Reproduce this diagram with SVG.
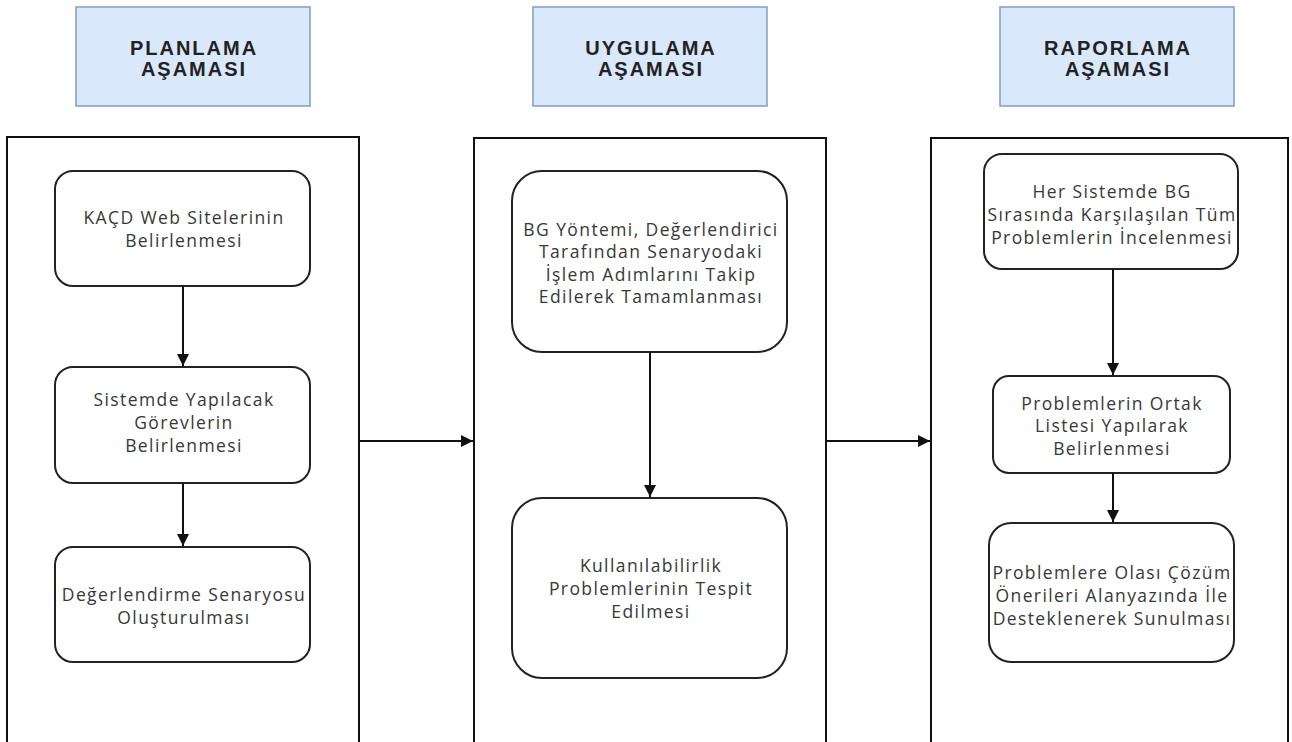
<svg xmlns="http://www.w3.org/2000/svg" width="1292" height="742" viewBox="0 0 1292 742">
<style>
.hdr{fill:#dae8fc;stroke:#7f9cc8;stroke-width:1.5}
.hdrt{font-family:"Liberation Sans",Arial,sans-serif;font-weight:bold;font-size:20px;letter-spacing:2px;fill:#222;text-anchor:middle}
.frame{fill:#fff;stroke:#111;stroke-width:2}
.node{fill:#fff;stroke:#222;stroke-width:2}
.nt{font-family:"Open Sans","Noto Sans",sans-serif;font-size:17.5px;letter-spacing:1.4px;fill:#383838;text-anchor:middle}
.conn{stroke:#111;stroke-width:2;fill:none}
</style>
<defs>
<marker id="ah" viewBox="0 0 10 10" refX="10" refY="5" markerWidth="6" markerHeight="6" orient="auto" markerUnits="strokeWidth">
<path d="M0,0 L10,5 L0,10 Z" fill="#111"/>
</marker>
</defs>
<rect width="1292" height="742" fill="#fff"/>

<g id="hdr-planlama"><rect class="hdr" x="76" y="7" width="234" height="99"/><text class="hdrt" x="194" y="55">PLANLAMA</text><text class="hdrt" x="194" y="76">AŞAMASI</text></g>
<g id="hdr-uygulama"><rect class="hdr" x="533" y="7" width="234" height="99"/><text class="hdrt" x="651" y="55">UYGULAMA</text><text class="hdrt" x="651" y="76">AŞAMASI</text></g>
<g id="hdr-raporlama"><rect class="hdr" x="1000" y="7" width="234" height="99"/><text class="hdrt" x="1118" y="55">RAPORLAMA</text><text class="hdrt" x="1118" y="76">AŞAMASI</text></g>

<g id="frame-planlama"><rect class="frame" x="7" y="137" width="352" height="620"/></g>
<g id="frame-uygulama"><rect class="frame" x="474" y="138" width="352" height="620"/></g>
<g id="frame-raporlama"><rect class="frame" x="931" y="138" width="357" height="620"/></g>

<g id="p1"><rect class="node" x="55" y="171" width="255" height="115" rx="18"/><text class="nt" x="184" y="224">KAÇD Web Sitelerinin</text><text class="nt" x="184" y="247">Belirlenmesi</text></g>
<g id="p2"><rect class="node" x="55" y="367" width="255" height="116" rx="18"/><text class="nt" x="184" y="406">Sistemde Yapılacak</text><text class="nt" x="184" y="429">Görevlerin</text><text class="nt" x="184" y="452">Belirlenmesi</text></g>
<g id="p3"><rect class="node" x="55" y="547" width="255" height="115" rx="18"/><text class="nt" x="184" y="601">Değerlendirme Senaryosu</text><text class="nt" x="184" y="624">Oluşturulması</text></g>

<g id="u1"><rect class="node" x="512" y="171" width="275" height="181" rx="30"/><text class="nt" x="651" y="236">BG Yöntemi, Değerlendirici</text><text class="nt" x="651" y="258">Tarafından Senaryodaki</text><text class="nt" x="651" y="281">İşlem Adımlarını Takip</text><text class="nt" x="651" y="303">Edilerek Tamamlanması</text></g>
<g id="u2"><rect class="node" x="512" y="498" width="275" height="180" rx="30"/><text class="nt" x="651" y="572">Kullanılabilirlik</text><text class="nt" x="651" y="595">Problemlerinin Tespit</text><text class="nt" x="651" y="618">Edilmesi</text></g>

<g id="r1"><rect class="node" x="984" y="154" width="254" height="115" rx="18"/><text class="nt" x="1112" y="198">Her Sistemde BG</text><text class="nt" x="1112" y="221">Sırasında Karşılaşılan Tüm</text><text class="nt" x="1112" y="244">Problemlerin İncelenmesi</text></g>
<g id="r2"><rect class="node" x="993" y="376" width="237" height="97" rx="16"/><text class="nt" x="1112" y="410">Problemlerin Ortak</text><text class="nt" x="1112" y="432">Listesi Yapılarak</text><text class="nt" x="1112" y="455">Belirlenmesi</text></g>
<g id="r3"><rect class="node" x="989" y="523" width="245" height="139" rx="22"/><text class="nt" x="1112" y="579">Problemlere Olası Çözüm</text><text class="nt" x="1112" y="602">Önerileri Alanyazında İle</text><text class="nt" x="1112" y="625">Desteklenerek Sunulması</text></g>

<g id="connectors">
<line class="conn" x1="183" y1="286" x2="183" y2="366" marker-end="url(#ah)"/>
<line class="conn" x1="183" y1="483" x2="183" y2="546" marker-end="url(#ah)"/>
<line class="conn" x1="650" y1="352" x2="650" y2="497" marker-end="url(#ah)"/>
<line class="conn" x1="1113" y1="269" x2="1113" y2="375" marker-end="url(#ah)"/>
<line class="conn" x1="1113" y1="473" x2="1113" y2="522" marker-end="url(#ah)"/>
<line class="conn" x1="359" y1="441" x2="473" y2="441" marker-end="url(#ah)"/>
<line class="conn" x1="826" y1="441" x2="930" y2="441" marker-end="url(#ah)"/>
</g>
</svg>
